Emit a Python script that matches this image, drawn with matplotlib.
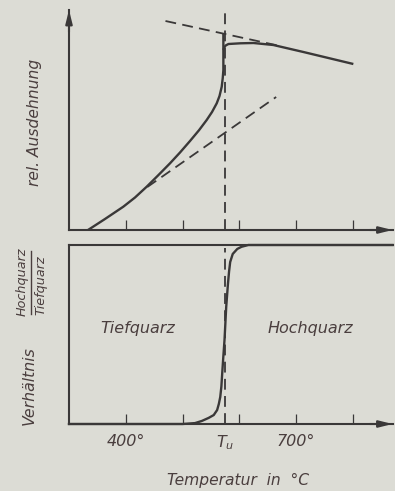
import matplotlib
matplotlib.use('Agg')
import matplotlib.pyplot as plt
from matplotlib.lines import Line2D

plt.rcParams['font.family'] = ['DejaVu Sans']
plt.rcParams['mathtext.fontset'] = 'dejavusans'

# ---------------- data ----------------
# top panel: relative expansion (arbitrary units) vs temperature
exp_T = [333.5, 363.4, 395.7, 416.3, 436.9, 456.8, 478, 495.6, 513.2, 529.1,
         542.6, 552, 560.3, 565.2, 569.1, 570.9, 572, 572]
exp_Y = [0, 11, 23.3, 32.5, 43.3, 54.5, 66.7, 77.5, 89, 99.8,
         110, 118, 126.7, 134, 143.3, 152, 160, 197]
high_T = [572, 573.5, 576, 581, 602, 625, 660, 713, 801]
high_Y = [180, 182.5, 184.5, 186, 186.7, 187, 185, 178, 166]
upper_dash_T = [470, 668]
upper_dash_Y = [209, 184.5]
lower_dash_T = [438, 665]
lower_dash_Y = [43, 133]
T_u = 575

# bottom panel: ratio Hochquarz / Tiefquarz
ratio_T = [300, 500, 522, 534, 546, 555, 561, 564, 566.5, 568.5, 570, 572,
           574, 577, 580, 582, 584, 588.5, 596.5, 604, 616, 646, 870]
ratio_Y = [0, 0, 0.005, 0.017, 0.034, 0.05, 0.078, 0.112, 0.151, 0.21, 0.285,
           0.38, 0.469, 0.654, 0.78, 0.851, 0.905, 0.95, 0.978, 0.99, 1.0,
           1.0, 1.0]

tick_T = [400, 500, 600, 700, 800]
tick_labels = ['400°', '', '', '700°', '']

# ---------------- style ----------------
bg = '#dcdcd5'
ink = '#3a3838'
txt = '#4a3e3e'
W, H = 395, 491

fig = plt.figure(figsize=(W / 100, H / 100), dpi=100, facecolor=bg)

def fx(px):
    return px / W

def fy(py):
    return 1 - py / H

ax1 = fig.add_axes([fx(69), fy(230), 323.5 / W, 220 / H], facecolor=bg)
ax2 = fig.add_axes([fx(69), fy(424), 323.5 / W, 179 / H], facecolor=bg)

dash = (0, (6, 3.5))
dlw = 1.3

def arrow(ax, xy, xytext):
    ax.annotate('', xy=xy, xytext=xytext, xycoords='axes fraction',
                arrowprops=dict(arrowstyle='-|>,head_length=0.8,head_width=0.2',
                                color=ink, lw=1.5, shrinkA=0, shrinkB=0),
                annotation_clip=False)

# ---- top panel ----
ax1.set_xlim(300, 870)
ax1.set_ylim(0, 220)
for s in ['top', 'right']:
    ax1.spines[s].set_visible(False)
for s in ['left', 'bottom']:
    ax1.spines[s].set_linewidth(1.5)
    ax1.spines[s].set_color(ink)
ax1.plot(exp_T, exp_Y, color=ink, lw=1.7, solid_capstyle='butt',
         solid_joinstyle='round')
ax1.plot(high_T, high_Y, color=ink, lw=1.7, solid_capstyle='butt',
         solid_joinstyle='round')
ax1.plot(upper_dash_T, upper_dash_Y, color=ink, lw=dlw, ls=dash)
ax1.plot(lower_dash_T, lower_dash_Y, color=ink, lw=dlw, ls=dash)
ax1.plot([T_u, T_u], [0, 220], color=ink, lw=dlw, ls=dash, clip_on=False)
ax1.set_xticks(tick_T, labels=[''] * len(tick_T))
ax1.tick_params(axis='x', direction='in', length=7, width=0.9, color=ink)
ax1.set_yticks([])
arrow(ax1, (0, 1.0), (0, 0.9))
arrow(ax1, (1.0, 0), (0.93, 0))

# ---- bottom panel ----
ax2.set_xlim(300, 870)
ax2.set_ylim(0, 1)
ax2.spines['right'].set_visible(False)
for s in ['left', 'bottom', 'top']:
    ax2.spines[s].set_linewidth(1.5)
    ax2.spines[s].set_color(ink)
ax2.plot(ratio_T, ratio_Y, color=ink, lw=1.7, clip_on=False,
         solid_joinstyle='round')
ax2.plot([T_u, T_u], [0, 0.985], color=ink, lw=dlw, ls=dash)
ax2.set_xticks(tick_T, labels=tick_labels)
ax2.set_xticks([T_u], labels=['$T_u$'], minor=True)
ax2.tick_params(axis='x', which='major', direction='in', length=7, width=0.9,
                color=ink, pad=7, labelsize=11.5, labelcolor=txt)
ax2.tick_params(axis='x', which='minor', length=0, pad=7, labelsize=11.5,
                labelcolor=txt)
for lab in ax2.get_xticklabels():
    lab.set_style('italic')
ax2.set_yticks([])
arrow(ax2, (1.0, 0), (0.93, 0))

ax2.text(421.6, 0.536, 'Tiefquarz', ha='center', va='center', style='italic',
         fontsize=11.5, color=txt)
ax2.text(724.7, 0.536, 'Hochquarz', ha='center', va='center', style='italic',
         fontsize=11.5, color=txt)

# ---- axis labels ----
fig.text(fx(35), fy(122), 'rel. Ausdehnung', rotation=90, ha='center',
         va='center', style='italic', fontsize=11.2, color=txt)
fig.text(fx(29), fy(386), 'Verhältnis', rotation=90, ha='center',
         va='center', style='italic', fontsize=11.3, color=txt)
fig.text(fx(22), fy(282), 'Hochquarz', rotation=90, ha='center',
         va='center', style='italic', fontsize=9.2, color=txt)
fig.text(fx(40.5), fy(285), 'Tiefquarz', rotation=90, ha='center',
         va='center', style='italic', fontsize=9.2, color=txt)
fig.add_artist(Line2D([fx(31.5), fx(31.5)], [fy(251), fy(314)],
                      transform=fig.transFigure, color=txt, lw=1.0))
fig.text(fx(238), fy(480), 'Temperatur  in  °C', ha='center', va='center',
         style='italic', fontsize=11.2, color=txt)

fig.savefig('out.png', dpi=100, facecolor=bg)
